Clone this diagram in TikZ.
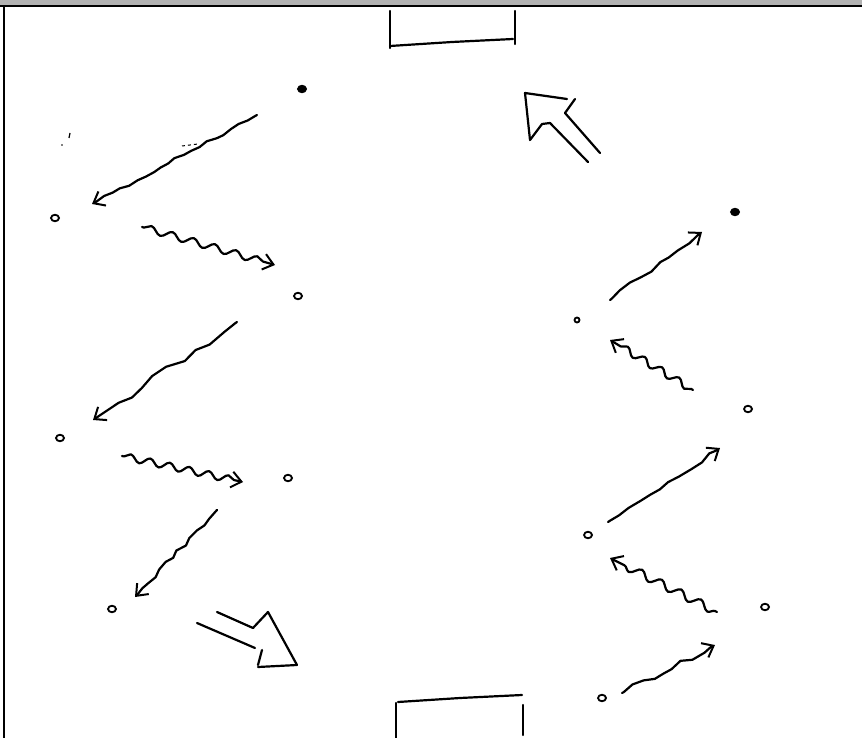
\documentclass[tikz,border=0pt]{standalone}
\usetikzlibrary{decorations.pathmorphing,arrows.meta,shapes.geometric}
\begin{document}
\begin{tikzpicture}[x=1pt,y=-1pt,
  pen/.style={line width=2.2pt,line cap=round,line join=round,black},
  dotnode/.style={draw,line width=1.8pt,ellipse,minimum width=8pt,minimum height=6.5pt,inner sep=0pt},
  fdot/.style={dotnode,fill=black},
  hd/.style={-{Straight Barb[length=10pt,width=16pt,line width=2pt]}},
  bumpy/.style={pen,hd,decorate,decoration={random steps,segment length=9pt,amplitude=1.8pt,pre length=2pt,post length=5pt}},
  wavy/.style={pen,hd,decorate,decoration={snake,segment length=22pt,amplitude=3.5pt,pre length=2pt,post length=7pt}}]
\pgfmathsetseed{7}
\useasboundingbox (0,0) rectangle (862,738);
% frame
\fill[black!30] (0,0) rectangle (862,5.5);
\draw[line width=2pt] (0,6.5) -- (862,6.5);
\draw[line width=2pt] (4,6) -- (4,738);
% boxes
\draw[pen] (390,11) -- (390,48);
\draw[pen] (390,46) -- (452,42) -- (513,39);
\draw[pen] (515,11) -- (515,44);
\draw[pen] (396,738) -- (396,703);
\draw[pen] (398,702) -- (460,698) -- (522,695);
\draw[pen] (523,705) -- (523,735);
% dots
\node[fdot] (d1) at (302,89) {};
\node[dotnode] (d2) at (55,218) {};
\node[dotnode] (d3) at (298,296) {};
\node[dotnode] (d4) at (60,438) {};
\node[dotnode] (d5) at (288,478) {};
\node[dotnode] (d6) at (112,609) {};
\node[dotnode] (d7) at (602,698) {};
\node[fdot] (r1) at (735,212) {};
\node[dotnode,minimum width=5pt,minimum height=5pt] (r2) at (577,320) {};
\node[dotnode] (r3) at (748,409) {};
\node[dotnode] (r4) at (588,535) {};
\node[dotnode] (r5) at (765,607) {};
% arrow end points
\coordinate (a1s) at (257,115); \coordinate (a1e) at (92,204);
\coordinate (a2s) at (142,227); \coordinate (a2e) at (275,265);
\coordinate (a3s) at (237,322); \coordinate (a3e) at (93,420);
\coordinate (a4s) at (122,456); \coordinate (a4e) at (243,482);
\coordinate (a5s) at (217,510); \coordinate (a5e) at (135,597);
\coordinate (b1s) at (610,300); \coordinate (b1e) at (702,232);
\coordinate (b2s) at (693,390); \coordinate (b2e) at (610,340);
\coordinate (b3s) at (608,522); \coordinate (b3e) at (720,448);
\coordinate (b4s) at (717,612); \coordinate (b4e) at (610,558);
\coordinate (b5s) at (622,693); \coordinate (b5e) at (715,645);
% arrows
\draw[bumpy] (a1s) -- (a1e);
\draw[wavy] (a2s) -- (a2e);
\draw[bumpy,decoration={random steps,segment length=16pt,amplitude=3.5pt,pre length=2pt,post length=7pt}] (a3s) -- (a3e);
\draw[wavy,decoration={snake,segment length=20pt,amplitude=3.5pt,pre length=2pt,post length=7pt}] (a4s) -- (a4e);
\draw[bumpy] (a5s) -- (a5e);
\draw[bumpy,decoration={random steps,segment length=12pt,amplitude=2.2pt,pre length=2pt,post length=5pt}] (b1s) -- (b1e);
\draw[wavy,decoration={snake,segment length=20pt,amplitude=3.5pt,pre length=2pt,post length=7pt}] (b2s) -- (b2e);
\draw[bumpy,decoration={random steps,segment length=12pt,amplitude=2.2pt,pre length=2pt,post length=5pt}] (b3s) -- (b3e);
\draw[wavy,decoration={snake,segment length=22pt,amplitude=4pt,pre length=2pt,post length=7pt}] (b4s) -- (b4e);
\draw[bumpy,decoration={random steps,segment length=11pt,amplitude=3pt,pre length=2pt,post length=5pt}] (b5s) -- (b5e);
% big hollow arrows
\draw[pen] (588,162) -- (550,123) -- (542,124) -- (530,140) -- (525,93) -- (567,99);
\draw[pen] (575,99) -- (565,113) -- (600,153);
\draw[pen] (217,612) -- (253,628) -- (268,612) -- (297,665) -- (258,667);
\draw[pen] (197,623) -- (255,648);
\draw[pen] (262,650) -- (258,665);
% stray marks
\draw[line width=1.2pt] (70,133) -- (69,138);
\fill (62,145) circle (0.9pt);
\draw[line width=1pt,dash pattern=on 3pt off 3pt] (182,146) -- (198,144);
\end{tikzpicture}
\end{document}
